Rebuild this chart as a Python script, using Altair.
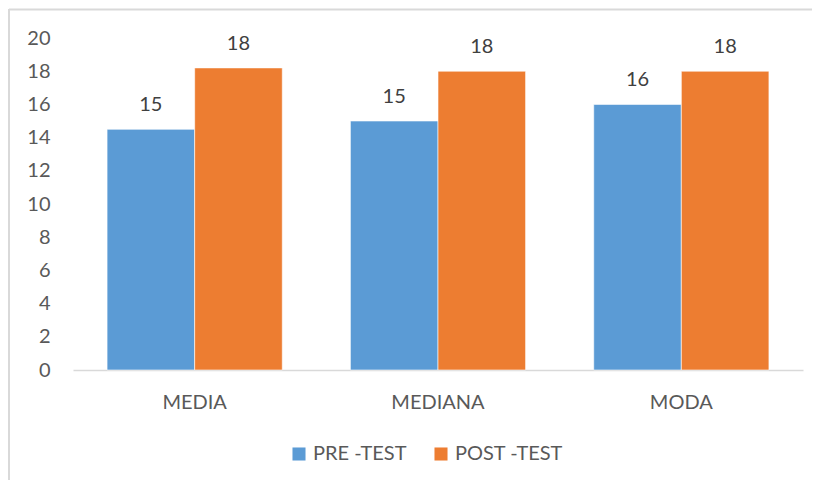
import altair as alt
import pandas as pd

categories = ["MEDIA", "MEDIANA", "MODA"]
series = ["PRE -TEST", "POST -TEST"]
pre_test = [14.5, 15.0, 16.0]
post_test = [18.2, 18.0, 18.0]
y_ticks = [0, 2, 4, 6, 8, 10, 12, 14, 16, 18, 20]
colors = ["#5B9BD5", "#ED7D31"]

rows = []
for i, c in enumerate(categories):
    rows.append({"cat": c, "series": series[0], "value": pre_test[i]})
    rows.append({"cat": c, "series": series[1], "value": post_test[i]})
df = pd.DataFrame(rows)

FONT = "Lato"
W, H = 730, 332

x_enc = alt.X("cat:N", sort=categories, title=None,
              scale=alt.Scale(paddingInner=0.28, paddingOuter=0.14),
              axis=alt.Axis(labelAngle=0, ticks=False, domainColor="#d9d9d9",
                            domainWidth=1.3, labelPadding=22, labelFontSize=20,
                            labelColor="#595959", labelFont=FONT))
xoff = alt.XOffset("series:N", sort=series, scale=alt.Scale(paddingInner=0, paddingOuter=0))
y_enc = alt.Y("value:Q", title=None,
              scale=alt.Scale(domain=[0, 20], nice=False),
              axis=alt.Axis(values=y_ticks, grid=False, domain=False, ticks=False,
                            labelOverlap=False, labelPadding=23, labelFontSize=20,
                            labelColor="#595959", labelFont=FONT))

base = alt.Chart(df)

bars = base.mark_bar(stroke="white", strokeWidth=0.6).encode(
    x=x_enc, xOffset=xoff, y=y_enc,
    color=alt.Color("series:N", sort=series,
                    scale=alt.Scale(domain=series, range=colors),
                    legend=alt.Legend(title=None, orient="none", direction="horizontal",
                                      legendX=216, legendY=406, symbolType="square",
                                      symbolSize=170, symbolStrokeWidth=0,
                                      labelFontSize=20, labelColor="#595959",
                                      labelFont=FONT, columnPadding=24, labelOffset=4)),
)

labels = base.mark_text(baseline="bottom", dy=-14, fontSize=20, color="#404040",
                        font=FONT).encode(
    x=x_enc, xOffset=xoff, y=y_enc,
    text=alt.Text("value:Q", format=".0f"),
)

border_src = alt.Chart(pd.DataFrame({"k": [0]}))
top_line = border_src.mark_rule(color="#d9d9d9", strokeWidth=2).encode(
    x=alt.value(-64), x2=alt.value(760), y=alt.value(-28.5))
left_line = border_src.mark_rule(color="#d9d9d9", strokeWidth=2).encode(
    x=alt.value(-64), y=alt.value(-29), y2=alt.value(460))

chart = alt.layer(top_line, left_line, bars, labels).properties(
    width=W, height=H,
    autosize=alt.AutoSizeParams(type="none"),
    padding={"left": 65, "top": 30, "right": 9, "bottom": 110},
).configure_view(strokeWidth=0, stroke="transparent")

chart.save("out.html", embed_options={"renderer": "svg", "actions": False})
